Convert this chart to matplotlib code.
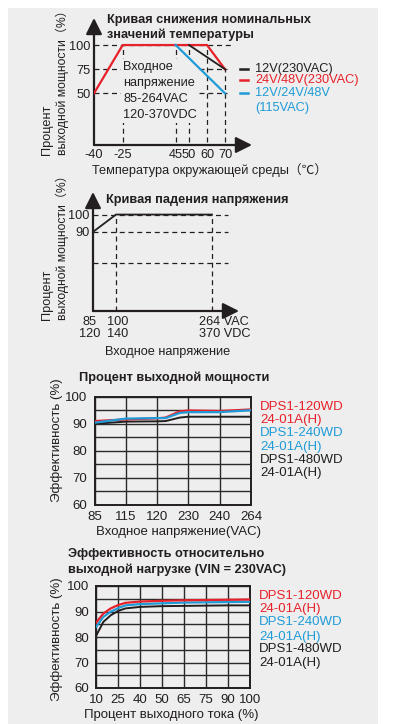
import numpy as np
import matplotlib
matplotlib.use("Agg")
import matplotlib.pyplot as plt
from matplotlib.patches import Rectangle
from matplotlib.lines import Line2D

plt.rcParams['font.family'] = ['Liberation Sans', 'Noto Sans CJK SC', 'DejaVu Sans']

# ---------------- data ----------------
# Chart 1: temperature derating
temp_ticks = [-40, -25, 45, 50, 60, 70]
power_ticks = [50, 75, 100]
temp_x_12v = [50, 70]
temp_y_12v = [100, 75]
temp_x_24v = [-40, -25, 60, 70]
temp_y_24v = [50, 100, 100, 75]
temp_x_115 = [45, 70]
temp_y_115 = [100, 50]
temp_legend = ["12V(230VAC)", "24V/48V(230VAC)", "12V/24V/48V\n(115VAC)"]

# Chart 2: input voltage derating
volt_ticks_ac = [85, 100, 264]
volt_ticks_dc = [120, 140, 370]
volt_power_ticks = [90, 100]
volt_x = [85, 100, 264]
volt_y = [90, 100, 100]

# Chart 3: efficiency vs input voltage
vin_ticks = [85, 115, 120, 230, 240, 264]
vin_x = [85, 115, 120, 150, 200, 230, 240, 264]
eff_vin_120 = [91.0, 91.6, 92.0, 92.3, 94.6, 94.9, 94.7, 95.3]
eff_vin_240 = [90.4, 91.9, 92.1, 92.1, 94.0, 94.3, 94.3, 95.0]
eff_vin_480 = [90.0, 90.8, 90.9, 91.0, 92.3, 92.6, 92.6, 92.6]

# Chart 4: efficiency vs load
load_ticks = [10, 25, 40, 50, 65, 75, 90, 100]
load_x = [10, 15, 20, 25, 30, 40, 50, 65, 75, 90, 100]
eff_load_120 = [85.6, 89.2, 91.2, 92.5, 93.4, 93.9, 94.2, 94.4, 94.5, 94.6, 94.7]
eff_load_240 = [83.9, 87.9, 89.9, 91.3, 92.4, 92.9, 93.2, 93.5, 93.6, 93.7, 93.8]
eff_load_480 = [80.4, 85.9, 88.5, 90.2, 91.2, 91.8, 92.1, 92.2, 92.3, 92.4, 92.4]

models = ["DPS1-120WD\n24-01A(H)", "DPS1-240WD\n24-01A(H)", "DPS1-480WD\n24-01A(H)"]

# ---------------- style ----------------
RED = '#e8202a'
BLUE = '#1f9bd7'
BLACK = '#231f20'
BG = '#edeeed'
FS = 9.2

W, H = 393, 724
fig = plt.figure(figsize=(W / 100, H / 100), dpi=100)
fig.patch.set_facecolor('white')
fig.patches.append(Rectangle((8 / W, 0), 370 / W, 716 / H, transform=fig.transFigure,
                             facecolor=BG, edgecolor='none', zorder=-5))


def px_axes(l, t, r, b):
    ax = fig.add_axes([l / W, 1 - b / H, (r - l) / W, (b - t) / H])
    ax.set_facecolor('none')
    ax.set_zorder(2)
    return ax


def T(x, y, s, **kw):
    kw.setdefault('fontsize', FS)
    kw.setdefault('color', BLACK)
    return fig.text(x / W, 1 - y / H, s, **kw)


def piecewise_scale(nodes, pos):
    nodes = np.asarray(nodes, float)
    pos = np.asarray(pos, float)
    return (lambda v: np.interp(v, nodes, pos), lambda p: np.interp(p, pos, nodes))


def arrows(ax):
    for sp in ax.spines.values():
        sp.set_visible(False)
    kw = dict(arrowstyle='-|>,head_length=0.7,head_width=0.35', color=BLACK, lw=1.6,
              shrinkA=0, shrinkB=0, mutation_scale=14)
    ax.annotate('', xy=(1, 0), xytext=(0, 0), xycoords='axes fraction', arrowprops=kw)
    ax.annotate('', xy=(0, 1), xytext=(0, 0), xycoords='axes fraction', arrowprops=kw)


dash = dict(color=BLACK, lw=0.9, linestyle=(0, (4, 3)), zorder=2)

# ================= Chart 1 =================
ax1 = px_axes(94, 18, 252, 145)
ax1.set_xscale('function', functions=piecewise_scale([-40, -25, 45, 50, 60, 70, 85],
                                                     [0, 28.7, 81.7, 95, 113, 131, 158]))
ax1.set_xlim(-40, 85)
ax1.set_ylim(-3.5, 128)
arrows(ax1)
ax1.hlines(100, -40, 74, **dash)
ax1.hlines([75, 50], -40, 71, **dash)
ax1.vlines([-25, 45, 50, 60], 0, 100, **dash)
ax1.vlines(70, 0, 75, **dash)
ax1.plot(temp_x_24v, temp_y_24v, color=RED, lw=1.6, zorder=6)
ax1.plot(temp_x_115, temp_y_115, color=BLUE, lw=1.6, zorder=6)
ax1.plot(temp_x_12v, temp_y_12v, color=BLACK, lw=1.3, zorder=6)
ax1.set_xticks(temp_ticks, [str(t) for t in temp_ticks])
ax1.set_yticks(power_ticks, [str(t) for t in power_ticks])
ax1.tick_params(length=0, labelsize=FS, labelcolor=BLACK, pad=3)
ax1.tick_params(axis='y', pad=2.5)
ax1.minorticks_off()
ax1.text(-24, 83.5, "Входное\nнапряжение\n85-264VAC\n120-370VDC", fontsize=FS, color=BLACK,
         va='top', ha='left', linespacing=1.45, zorder=4,
         bbox=dict(facecolor=BG, edgecolor='none', pad=1.5))

T(107, 20, "Кривая снижения номинальных", fontweight='bold', va='center')
T(107, 35, "значений температуры", fontweight='bold', va='center')
T(47, 155, "Процент", rotation=90, ha='center', va='bottom')
T(62, 155, "выходной мощности（%）", rotation=90, ha='center', va='bottom', fontsize=8.7)
T(210, 170, "Температура окружающей среды（℃）", ha='center', va='center')

leg_y = [69, 80.3, 92.7]
for (lab, col, yy) in zip(temp_legend, [BLACK, RED, BLUE], leg_y):
    fig.add_artist(Line2D([240 / W, 248 / W], [1 - yy / H] * 2, color=col, lw=1.8))
    T(255, yy - 6, lab, color=col, va='top', linespacing=1.35)

# ================= Chart 2 =================
ax2 = px_axes(93, 192, 239, 311)
ax2.set_xscale('function', functions=piecewise_scale([85, 100, 264, 300], [0, 23, 119, 146]))
ax2.set_xlim(85, 300)
ax2.set_ylim(44.4, 113)
arrows(ax2)
ax2.hlines([100, 90, 72], 85, 285, **dash)
ax2.vlines([100, 264], 44.4, 100, **dash)
ax2.plot(volt_x, volt_y, color=BLACK, lw=1.3, zorder=6)
ax2.set_xticks([])
ax2.minorticks_off()
ax2.set_yticks(volt_power_ticks, [str(t) for t in volt_power_ticks])
ax2.tick_params(length=0, labelsize=FS, labelcolor=BLACK, pad=2.5)
xt = ax2.get_xaxis_transform()
offs = [(-2.5, 'center'), (1, 'center'), (-9.5, 'left')]
for i, (ac, dc) in enumerate(zip(volt_ticks_ac, volt_ticks_dc)):
    dx, ha = offs[i]
    sa = f"{ac} VAC" if i == 2 else str(ac)
    sd = f"{dc} VDC" if i == 2 else str(dc)
    ax2.annotate(sa + "\n" + sd, xy=(ac, 0), xycoords=xt, xytext=(dx, -3.5),
                 textcoords='offset points', ha=ha, va='top', fontsize=FS,
                 color=BLACK, linespacing=1.05, annotation_clip=False)

T(106, 200, "Кривая падения напряжения", fontweight='bold', va='center')
T(47, 320, "Процент", rotation=90, ha='center', va='bottom')
T(62, 320, "выходной мощности（%）", rotation=90, ha='center', va='bottom', fontsize=8.7)
T(168, 352, "Входное напряжение", ha='center', va='center')


# ================= Chart 3 & 4 helpers =================
def eff_axes(ax):
    ax.set_ylim(60, 100)
    ax.set_yticks([60, 70, 80, 90, 100])
    ax.set_yticks([65, 75, 85, 95], minor=True)
    ax.grid(True, which='both', color='#2a2a2a', lw=1.0)
    ax.tick_params(which='both', length=0, labelsize=FS + 0.3, labelcolor=BLACK)
    ax.tick_params(axis='y', pad=5)
    ax.tick_params(axis='x', pad=4)
    for sp in ax.spines.values():
        sp.set_color(BLACK)
        sp.set_linewidth(1.4)
    ax.set_axisbelow(True)


def legend_block(x, ys):
    k = 0
    for lab, col in zip(models, [RED, BLUE, BLACK]):
        for line in lab.split("\n"):
            T(x, ys[k], line, color=col, va='center', fontsize=FS + 0.3)
            k += 1


# ================= Chart 3 =================
ax3 = px_axes(94.5, 396.7, 251, 505)
ax3.set_xscale('function', functions=piecewise_scale(vin_ticks, np.arange(len(vin_ticks))))
ax3.set_xlim(vin_ticks[0], vin_ticks[-1])
eff_axes(ax3)
ax3.set_xticks(vin_ticks, [str(v) for v in vin_ticks])
ax3.xaxis.set_minor_locator(matplotlib.ticker.NullLocator())
ax3.plot(vin_x, eff_vin_480, color=BLACK, lw=1.4, zorder=3)
ax3.plot(vin_x, eff_vin_120, color=RED, lw=1.6, zorder=3)
ax3.plot(vin_x, eff_vin_240, color=BLUE, lw=1.6, zorder=4)
T(79, 377.3, "Процент выходной мощности", fontweight='bold', va='center')
T(57, 440, "Эффективность (%)", rotation=90, ha='center', va='center', fontsize=FS + 0.3)
T(178, 532.3, "Входное напряжение(VAC)", ha='center', va='center', fontsize=FS + 0.3)
legend_block(260, [406.7, 420, 433.3, 446.7, 460, 473.3])

# ================= Chart 4 =================
ax4 = px_axes(96, 586, 250, 688)
ax4.set_xscale('function', functions=piecewise_scale(load_ticks, np.arange(len(load_ticks))))
ax4.set_xlim(load_ticks[0], load_ticks[-1])
eff_axes(ax4)
ax4.set_xticks(load_ticks, [str(v) for v in load_ticks])
ax4.xaxis.set_minor_locator(matplotlib.ticker.NullLocator())
ax4.plot(load_x, eff_load_480, color=BLACK, lw=1.4, zorder=3)
ax4.plot(load_x, eff_load_240, color=BLUE, lw=1.6, zorder=3)
ax4.plot(load_x, eff_load_120, color=RED, lw=1.6, zorder=4)
T(68, 554, "Эффективность относительно", fontweight='bold', va='center')
T(68, 569.3, "выходной нагрузке (VIN = 230VAC)", fontweight='bold', va='center')
T(57, 639, "Эффективность (%)", rotation=90, ha='center', va='center', fontsize=FS + 0.3)
T(171.7, 715, "Процент выходного тока (%)", ha='center', va='center', fontsize=FS + 0.3)
legend_block(259, [596, 609, 621.7, 636.7, 649.3, 663.3])

fig.savefig("out.png", dpi=100, facecolor='white')
